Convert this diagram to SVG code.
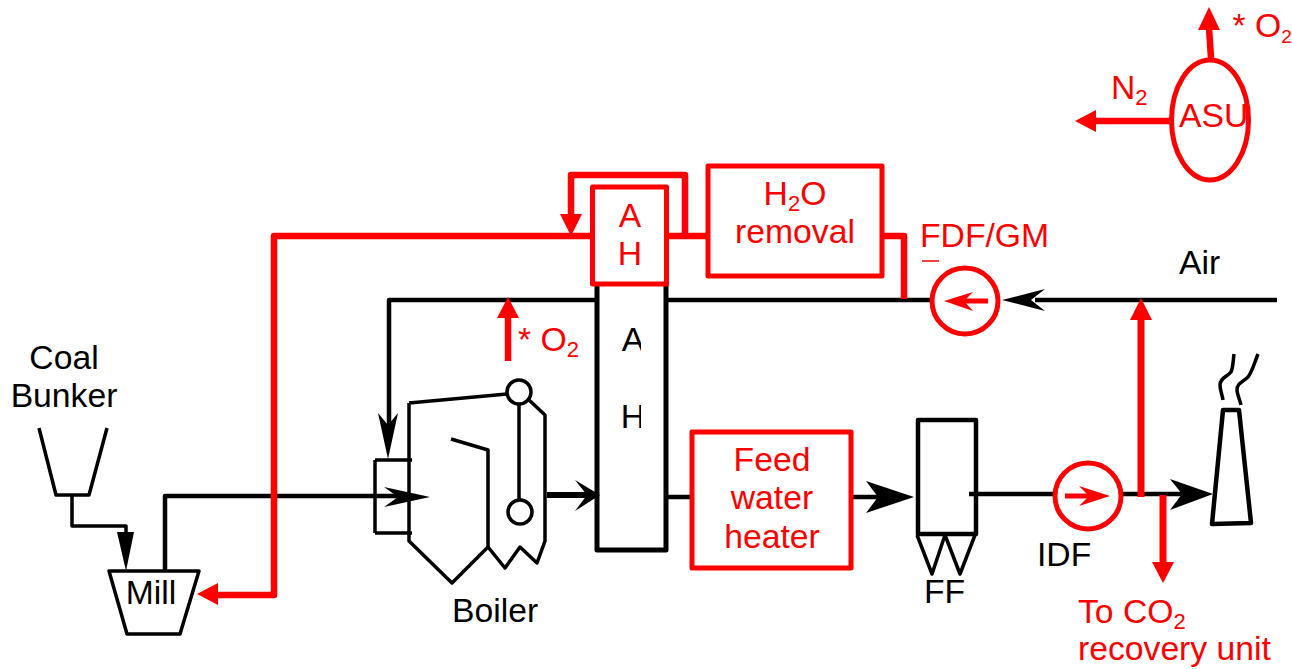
<svg xmlns="http://www.w3.org/2000/svg" width="1292" height="669" viewBox="0 0 1292 669">
<style>
text{font-family:"Liberation Sans",Arial,sans-serif;font-size:33.700px;fill:#000}
.r{fill:#f00}
.m{text-anchor:middle}
tspan.s{font-size:22px}
.k,.kt,.ro,.rt{fill:none;stroke-linejoin:round;stroke-linecap:butt}
.k{stroke:#000;stroke-width:4.5}
.kt{stroke:#000;stroke-width:3.5}
.ro{stroke:#f00;stroke-width:6.500}
.rt{stroke:#f00;stroke-width:5}
.hk{fill:#000;stroke:none}
.hr{fill:#f00;stroke:none}
</style>
<defs><clipPath id="ahclip"><rect x="600" y="320" width="41" height="120"/></clipPath></defs>
<rect width="1292" height="669" fill="#fff"/>
<g id="connectors">
<path class="kt" d="M72 495V526H126V534"/>
<polygon class="hk" points="117,532 134,532 126,571"/>
<path class="k" d="M165 571V496H400"/>
<polygon class="hk" points="384,487 430,497 384,507 398,497"/>
<path class="k" d="M389 425V300H597"/>
<polygon class="hk" points="378,413 388,425 398,413 388,459"/>
<path class="k" d="M667 300H932"/>
<path class="k" d="M1035 300H1277"/>
<polygon class="hk" points="1045,289 1002,300 1045,311 1031,300"/>
<path class="k" style="stroke-width:6" d="M547 495H590"/>
<polygon class="hk" points="575,480 600,495 575,511 587,495"/>
<path class="k" d="M667 497H692"/>
<path class="k" d="M851 497H880"/>
<polygon class="hk" points="866,481 914,497 866,513 878,497"/>
<path class="k" d="M969 494H1055"/>
<path class="k" d="M1122 494H1190"/>
<polygon class="hk" points="1170,479 1213,494 1170,510 1182,494"/>
<path class="ro" d="M215 595H274V236H592"/>
<polygon class="hr" points="197,594 218,583 218,605"/>
<path class="ro" d="M666 236H707"/>
<path class="ro" d="M685 236V175H571V215"/>
<polygon class="hr" points="560,214 582,214 571,236"/>
<path class="ro" d="M883 236H904V299"/>
<path class="ro" d="M508 361V316"/>
<polygon class="hr" points="497,318 519,318 508,297"/>
<path class="ro" style="stroke-width:7" d="M1141 497V318"/>
<polygon class="hr" points="1130,320 1152,320 1141,298"/>
<path class="ro" style="stroke-width:7" d="M1163 495V564"/>
<polygon class="hr" points="1152,562 1174,562 1163,583"/>
<path class="ro" d="M1211 58L1209 28"/>
<polygon class="hr" points="1198,30 1220,30 1209,7"/>
<path class="ro" d="M1171 121H1094"/>
<polygon class="hr" points="1096,110 1096,132 1075,121"/>
</g>
<g id="coal-bunker">
<path class="kt" d="M39 428L56 495H89L107 428"/>
<text class="m" x="64" y="369">Coal</text>
<text class="m" x="64" y="407">Bunker</text>
</g>
<g id="mill">
<path class="kt" d="M109 571H199L180 634H127Z"/>
<text class="m" x="151" y="604">Mill</text>
</g>
<g id="boiler">
<path class="kt" d="M375 460H412M375 533H412M375 460V533"/>
<path class="kt" d="M409 403L507 394M529 400L545 415V541L537 563L520 547L505 568L488 547L452 583L409 541V403"/>
<path class="kt" d="M451 439L488 450V547"/>
<path class="kt" d="M519 404V500"/>
<circle class="kt" cx="519" cy="392" r="12"/>
<circle class="kt" cx="520" cy="512" r="12"/>
<text x="452" y="622">Boiler</text>
</g>
<g id="air-heater-lower">
<rect class="k" style="stroke-width:5" x="597" y="280" width="69" height="270"/>
<g clip-path="url(#ahclip)">
<text class="m" x="633" y="351">A</text>
<text class="m" x="633" y="428">H</text>
</g>
</g>
<g id="air-heater-upper">
<rect class="rt" style="fill:#fff" x="592.500" y="187" width="74" height="97"/>
<text class="r m" x="630" y="227">A</text>
<text class="r m" x="630" y="265">H</text>
</g>
<g id="h2o-removal">
<rect class="rt" style="fill:#fff" x="708" y="166" width="174" height="110"/>
<text class="r m" x="795" y="205">H<tspan class="s" dy="6">2</tspan><tspan dy="-6">O</tspan></text>
<text class="r m" x="795" y="243">removal</text>
</g>
<g id="fdf-gm">
<text class="r" x="920" y="247">FDF/GM</text>
<path d="M922 261H939" stroke="#f00" stroke-width="1.500"/>
<circle class="rt" style="fill:#fff" cx="965" cy="301" r="33"/>
<path class="ro" style="stroke-width:5" d="M988 301H962"/>
<polygon class="hr" points="944,301 973,292 964,301 973,311"/>
</g>
<g id="feed-water-heater">
<rect class="rt" x="692" y="432" width="159" height="136"/>
<text class="r m" x="772" y="471">Feed</text>
<text class="r m" x="772" y="509">water</text>
<text class="r m" x="772" y="548">heater</text>
</g>
<g id="ff">
<rect class="k" x="918" y="420" width="58" height="114"/>
<path class="kt" d="M917 535L932 574L945 535L960 574L975 535"/>
<text x="924" y="603">FF</text>
</g>
<g id="idf">
<circle class="rt" style="fill:#fff" cx="1088" cy="496" r="33"/>
<path class="ro" style="stroke-width:5" d="M1065 496H1092"/>
<polygon class="hr" points="1079,486 1110,496 1079,506 1089,496"/>
<text x="1037" y="566">IDF</text>
</g>
<g id="stack">
<path class="k" d="M1212 524L1223 410H1239L1251 523Z"/>
<path class="kt" d="M1234 354C1233 362 1233 368 1231 372C1227 377 1220 378 1220 385C1220 390 1222 394 1223 400"/>
<path class="kt" d="M1258 354C1254 364 1252 372 1248 377C1243 382 1237 383 1237 390C1237 394 1240 400 1241 405"/>
</g>
<g id="asu">
<ellipse class="rt" cx="1210" cy="120" rx="38.500" ry="60"/>
<text class="r" x="1179" y="127">ASU</text>
<text class="r" x="1232.500" y="37">* O<tspan style="font-size:19px" dy="6">2</tspan></text>
<text class="r" x="1111" y="99">N<tspan class="s" dy="6">2</tspan></text>
</g>
<g id="labels">
<text class="r" x="518" y="351">* O<tspan class="s" dy="6">2</tspan></text>
<text class="r" x="1078" y="623">To CO<tspan class="s" dy="6">2</tspan></text>
<text class="r" x="1078" y="660">recovery unit</text>
<text x="1179" y="274">Air</text>
</g>
</svg>
